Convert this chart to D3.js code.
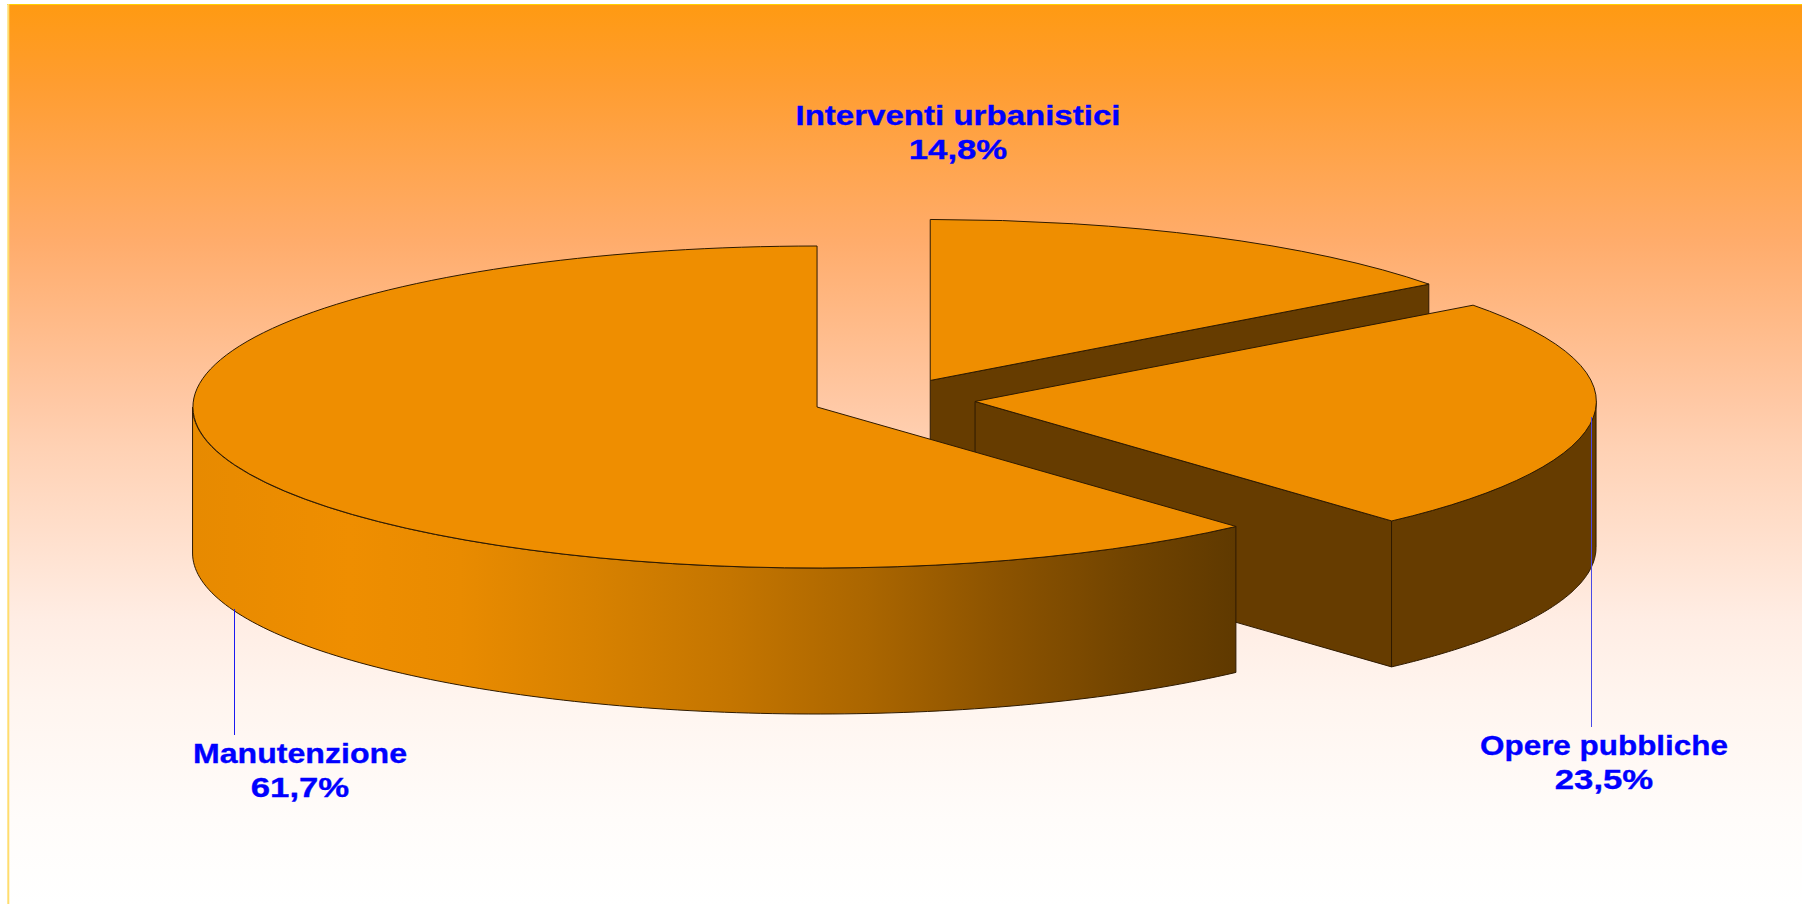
<!DOCTYPE html>
<html>
<head>
<meta charset="utf-8">
<script src="https://cdn.jsdelivr.net/npm/d3@7"></script>
<style>
  html, body { margin: 0; padding: 0; background: #fff; }
  svg { display: block; }
  text { font-family: "Liberation Sans", Arial, sans-serif; font-weight: bold; fill: #0000ff; stroke: #0000ff; stroke-width: 0.35; }
</style>
</head>
<body>
<div id="chart"></div>
<script>
// values, clockwise from 12 o'clock
const categories = ["Interventi urbanistici", "Opere pubbliche", "Manutenzione"];
const values = [14.8, 23.5, 61.7];

const width = 1802, height = 904;
const cx = 893.5, cy = 399.4;   // pie centre before the explode
const rx = 622.5, ry = 161;     // ellipse of the top face
const sliceRx = [622, 621, 624.5]; // the scanned picture is a bit off from one slice to the next
const depth = 146;
const explode = 0.1316;

const topColor = "#ef8e00", darkColor = "#663c00", lineColor = "#2e1a00";

// label placing, same order as categories
const labelX = [958, 1604, 300];
const labelY = [125, 755, 763];
const nameWidth = [325, 248, 214];
const pctWidth = 98.5;
const leaders = [null, {x: 1591.5, y1: 417, y2: 727, color: "#4a4ae6"}, {x: 234.5, y1: 609, y2: 735, color: "#1a1af0"}];

const bgStops = [[0, "#ff9a12"], [0.088, "#ff9d30"], [0.262, "#ffac6b"], [0.44, "#ffc8a4"], [0.497, "#ffd2b5"],
    [0.684, "#ffede4"], [0.773, "#fff5ef"], [0.906, "#fffcfa"], [1, "#ffffff"]];
const wallStops = [[0, "#e78a00"], [0.15, "#ef8e00"], [0.256, "#e98b00"], [0.386, "#d78100"], [0.515, "#c47500"],
    [0.645, "#ab6600"], [0.774, "#8c5300"], [0.903, "#704300"], [1, "#5f3900"]];

const svg = d3.select("#chart").append("svg")
    .attr("width", width)
    .attr("height", height);

const defs = svg.append("defs");

const bg = defs.append("linearGradient").attr("id", "bg")
    .attr("x1", 0).attr("y1", 0).attr("x2", 0).attr("y2", 1);
bgStops.forEach(s => {
    bg.append("stop").attr("offset", s[0]).attr("stop-color", s[1]);
});

// the front wall of the big slice goes from orange to brown left to right
const wall = defs.append("linearGradient").attr("id", "wall")
    .attr("gradientUnits", "userSpaceOnUse")
    .attr("x1", 193).attr("y1", 0).attr("x2", 1237).attr("y2", 0);
wallStops.forEach(s => {
    wall.append("stop").attr("offset", s[0]).attr("stop-color", s[1]);
});

svg.append("rect")
    .attr("x", 8).attr("y", 4.5)
    .attr("width", width - 8).attr("height", height - 4.5)
    .attr("fill", "url(#bg)");
// only the top and left of the frame show
svg.append("line").attr("x1", 7).attr("x2", width).attr("y1", 4.5).attr("y2", 4.5)
    .attr("stroke", "#ffd000").attr("stroke-width", 1);
svg.append("line").attr("x1", 8.3).attr("x2", 8.3).attr("y1", 4).attr("y2", height)
    .attr("stroke", "#ffdd6e").attr("stroke-width", 2);

const slices = d3.pie().sort(null)(values).map((d, i) => {
    const mid = (d.startAngle + d.endAngle) / 2;
    return {
        i: i,
        rx: sliceRx[i],
        start: d.startAngle,
        end: d.endAngle,
        x: cx + explode * rx * Math.sin(mid),
        y: cy - explode * ry * Math.cos(mid)
    };
});

const px = (s, a) => s.x + s.rx * Math.sin(a);
const py = (s, a) => s.y - ry * Math.cos(a);

// outer wall between two angles, top edge then back along the bottom edge
function outerWall(s, a0, a1) {
    const arc = d3.range(0, 121).map(k => a0 + (a1 - a0) * k / 120);
    const line = d3.line();
    const upper = arc.map(a => [px(s, a), py(s, a)]);
    const lower = arc.slice().reverse().map(a => [px(s, a), py(s, a) + depth]);
    return line(upper.concat(lower)) + "Z";
}

// flat wall from the apex out to the rim at angle a
function radialWall(s, a) {
    return d3.line()([[s.x, s.y], [px(s, a), py(s, a)], [px(s, a), py(s, a) + depth], [s.x, s.y + depth]]) + "Z";
}

const topArc = d3.arc().innerRadius(0).outerRadius(1);

function drawWall(d, fill) {
    svg.append("path")
        .attr("d", d)
        .attr("fill", fill)
        .attr("stroke", lineColor)
        .attr("stroke-width", 1)
        .attr("stroke-linejoin", "round");
}

function drawTop(s) {
    svg.append("path")
        .attr("d", topArc({startAngle: s.start, endAngle: s.end}))
        .attr("transform", `translate(${s.x},${s.y}) scale(${s.rx},${ry})`)
        .attr("fill", topColor)
        .attr("stroke", lineColor)
        .attr("stroke-width", 1)
        .attr("vector-effect", "non-scaling-stroke");
}

// back to front
const [s0, s1, s2] = slices;
drawWall(radialWall(s0, s0.end), darkColor);
drawTop(s0);
drawWall(radialWall(s1, s1.end), darkColor);
drawWall(outerWall(s1, Math.PI / 2, s1.end), darkColor);
drawTop(s1);
drawWall(outerWall(s2, s2.start, 1.5 * Math.PI), "url(#wall)");
drawTop(s2);

// leader lines, the right one runs over the brown wall
leaders.forEach(l => {
    if (!l) return;
    svg.append("line")
        .attr("x1", l.x).attr("x2", l.x)
        .attr("y1", l.y1).attr("y2", l.y2)
        .attr("stroke", l.color)
        .attr("stroke-width", 1);
});

const labels = svg.append("g")
    .attr("text-anchor", "middle")
    .attr("font-size", 27.5);
categories.forEach((c, i) => {
    labels.append("text")
        .attr("x", labelX[i]).attr("y", labelY[i])
        .attr("textLength", nameWidth[i])
        .attr("lengthAdjust", "spacingAndGlyphs")
        .text(c);
    labels.append("text")
        .attr("x", labelX[i]).attr("y", labelY[i] + 34)
        .attr("textLength", pctWidth)
        .attr("lengthAdjust", "spacingAndGlyphs")
        .text(values[i].toFixed(1).replace(".", ",") + "%");
});
</script>
</body>
</html>
